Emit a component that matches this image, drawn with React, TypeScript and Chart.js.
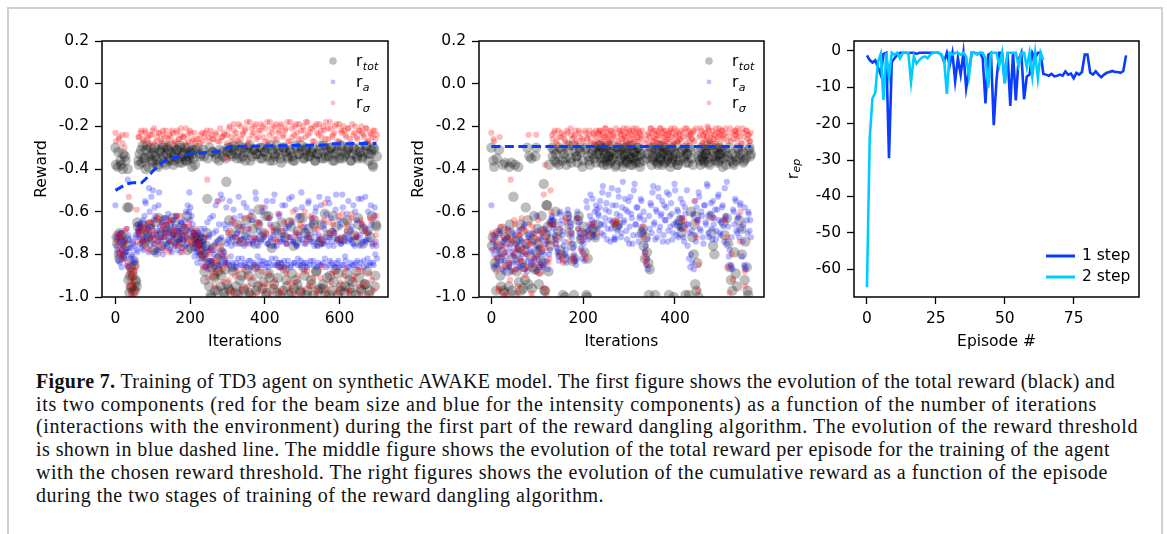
import React, { useEffect, useLayoutEffect, useRef } from "react";
import { Chart, registerables } from "chart.js";

Chart.register(...registerables);

// ---------------- DATA ----------------
// Reward panels: values in hundredths of reward units.
// Two sampling passes per series: pass 1 at iterations 0,3,6,...; pass 2 at 1.5,4.5,7.5,...
const STEP = 3;
const OFFSET2 = 1.5;
const SCALE = 100;

// ===== Left panel (first part of reward dangling), iterations 0..699 =====
const p1Tot = [
  -30,-72,-39,-80,-70,-38,-74,-33,-81,-36,-76,-40,-58,-90,-96,-88,-97,-85,-92,-95,-67,
  -38,-70,-31,-66,-35,-74,-40,-29,-72,-34,
  -68,-33,-37,-78,-30,-65,-36,-39,-71,-32,
  -76,-30,-34,-64,-38,-69,-31,-35,-73,-29,
  -63,-36,-33,-70,-31,-75,-37,-30,-67,-34,
  -72,-32,-36,-62,-30,-35,-77,-33,-31,-74,-38,-70,-73,
  -72,-78,-33,-75,-80,-34,-92,-76,-54,-84,
  -30,-99,-86,-32,-90,-97,-35,-82,-88,-31,
  -95,-79,-34,-98,-87,-46,
  -32,-96,-30,-70,-34,-88,-29,-98,-33,-66,
  -31,-92,-35,-74,-30,-97,-36,-64,-32,-90,
  -29,-99,-34,-68,-31,-86,-33,-95,-59,-30,
  -72,-35,-93,-32,-62,-98,-30,-89,-36,-75,
  -31,-96,-34,-67,-29,-91,-33,-99,-37,-70,
  -30,-87,-32,-95,-35,-65,-31,-98,-34,-76,
  -36,-92,-30,-69,-33,-97,-29,-63,-35,-90,
  -31,-99,-34,-72,-32,-94,-30,-66,-36,-88,
  -33,-97,-31,-74,-35,-96,-29,-61,-34,-91,
  -32,-99,-30,-70,-36,-93,-33,-67,-31,-89,
  -35,-97,-29,-73,-34,-95,-32,-64,-30,-92,
  -36,-98,-33,-71,-31,-88,-35,-66,-30,-96,
  -34,-75,-32,-94,-29,-69,-36,-97,-33,-62,
  -39,-31,-90,-67,
];
const p1Tot2 = [
  -38,-75,-32,-82,-36,-71,-40,-78,-34,-73,-58,-92,-98,-86,-95,-90,-83,-97,-93,-65,-36,
  -33,-68,-37,-29,-75,-35,-31,-70,-39,-66,
  -30,-36,-73,-32,-34,-79,-38,-63,-31,-35,
  -71,-29,-37,-67,-33,-30,-76,-36,-32,-69,
  -38,-34,-65,-31,-72,-35,-29,-74,-37,-33,
  -68,-30,-36,-78,-34,-32,-70,-39,-35,-72,-31,-76,-30,
  -75,-34,-81,-73,-31,-88,-79,-70,-35,-95,
  -84,-100,-32,-77,-91,-33,-86,-97,-36,-74,
  -90,-32,-83,-100,-35,-94,
  -30,-64,-97,-33,-86,-31,-73,-95,-35,-99,
  -29,-68,-90,-34,-96,-32,-71,-87,-30,-98,
  -36,-63,-93,-31,-75,-97,-33,-66,-89,-35,
  -30,-96,-70,-32,-99,-34,-62,-91,-29,-77,
  -36,-94,-33,-69,-98,-31,-85,-35,-65,-97,
  -30,-72,-92,-34,-99,-32,-67,-89,-36,-96,
  -29,-74,-94,-33,-63,-98,-31,-86,-35,-70,
  -30,-97,-68,-34,-92,-32,-99,-64,-36,-88,
  -33,-75,-96,-29,-66,-94,-35,-99,-31,-71,
  -34,-90,-30,-97,-62,-36,-87,-32,-99,-73,
  -29,-95,-35,-65,-98,-33,-89,-31,-69,-96,
  -36,-93,-30,-74,-99,-34,-63,-91,-32,-97,
  -35,-68,-94,-29,-88,-33,-99,-72,-31,-38,
  -30,-95,-66,-34,
];
const p1A = [
  -57,-76,-72,-80,-84,-70,-78,-74,-82,-79,-68,-45,-86,-73,-77,-81,-75,-83,-71,-78,-66,
  -70,-75,-66,-73,-78,-62,-56,-72,-68,-49,
  -76,-53,-71,-64,-58,-79,-69,-74,-51,-67,
  -72,-77,-63,-70,-75,-66,-61,-73,-78,-69,
  -64,-72,-76,-62,-70,-74,-68,-79,-65,-71,
  -73,-67,-60,-75,-69,-51,-58,-62,-66,-70,-75,-79,-84,
  -70,-74,-68,-82,-76,-72,-86,-79,-65,-84,
  -71,-77,-83,-62,-80,-75,-69,-55,-85,-73,
  -52,-78,-81,-66,-84,-58,
  -84,-74,-55,-81,-72,-86,-63,-75,-84,-70,
  -53,-85,-73,-82,-67,-76,-85,-58,-74,-83,
  -72,-86,-64,-75,-84,-51,-73,-81,-69,-85,
  -74,-60,-83,-72,-86,-55,-75,-84,-66,-73,
  -85,-71,-52,-82,-76,-85,-62,-74,-84,-57,
  -73,-86,-68,-75,-83,-54,-72,-85,-65,-74,
  -84,-59,-76,-82,-71,-85,-51,-73,-84,-67,
  -75,-86,-56,-72,-83,-63,-74,-85,-70,-58,
  -76,-84,-53,-73,-85,-66,-75,-82,-61,-74,
  -85,-56,-72,-84,-69,-76,-86,-52,-73,-83,
  -64,-75,-85,-58,-74,-81,-71,-86,-55,-73,
  -84,-67,-75,-85,-60,-72,-83,-54,-76,-84,
  -66,-74,-86,-53,-73,-82,-70,-85,-57,-75,
  -84,-62,-80,-76,
];
const p1A2 = [
  -72,-78,-83,-74,-70,-86,-76,-81,-73,-79,-85,-71,-77,-82,-80,-74,-84,-76,-72,-79,-69,
  -72,-68,-77,-64,-74,-55,-70,-66,-79,-60,
  -73,-67,-50,-75,-62,-71,-78,-57,-69,-74,
  -65,-80,-72,-68,-63,-76,-70,-74,-66,-79,
  -71,-67,-75,-62,-78,-69,-73,-65,-77,-70,
  -64,-76,-72,-57,-60,-64,-68,-72,-77,-81,-70,-74,-78,
  -76,-80,-71,-85,-74,-68,-82,-77,-87,-72,
  -63,-83,-78,-70,-86,-57,-74,-81,-66,-85,
  -72,-54,-79,-83,-68,-75,
  -73,-85,-66,-76,-84,-59,-72,-86,-70,-82,
  -75,-62,-85,-73,-56,-84,-71,-86,-68,-75,
  -83,-60,-74,-85,-72,-54,-86,-76,-65,-83,
  -73,-85,-70,-58,-84,-75,-86,-63,-72,-82,
  -55,-76,-85,-69,-73,-84,-61,-86,-74,-71,
  -83,-57,-75,-85,-67,-72,-86,-53,-74,-84,
  -70,-76,-85,-62,-73,-83,-58,-86,-75,-69,
  -84,-72,-55,-85,-74,-66,-83,-76,-60,-86,
  -73,-71,-85,-57,-75,-84,-68,-72,-86,-54,
  -76,-83,-63,-74,-85,-70,-59,-84,-73,-86,
  -67,-75,-52,-85,-72,-83,-61,-74,-86,-69,
  -73,-85,-57,-76,-84,-64,-72,-86,-71,-54,
  -75,-83,-68,-74,-85,-60,-73,-84,-66,-76,
  -85,-58,-74,-82,
];
const p1Sigma = [
  -23,-70,-75,-26,-78,-72,-24,-80,-30,-74,-68,-86,-53,-93,-98,-90,-100,-88,-96,-59,-69,
  -25,-71,-22,-67,-27,-74,-23,-69,-26,-78,
  -24,-65,-22,-73,-28,-70,-25,-63,-23,-76,
  -27,-68,-24,-72,-22,-66,-26,-79,-25,-64,
  -23,-71,-28,-69,-22,-75,-26,-62,-24,-77,
  -25,-70,-21,-73,-27,-67,-23,-74,-26,-72,-28,-70,-75,
  -26,-74,-24,-78,-27,-82,-23,-86,-45,-25,
  -80,-22,-88,-26,-76,-90,-24,-84,-55,-27,
  -79,-25,-87,-23,-81,-35,
  -24,-92,-20,-70,-27,-98,-22,-66,-25,-88,
  -19,-74,-26,-96,-23,-63,-21,-90,-28,-68,
  -18,-99,-24,-72,-20,-86,-26,-65,-22,-94,
  -19,-58,-25,-97,-21,-70,-27,-89,-18,-67,
  -23,-95,-20,-73,-26,-61,-22,-98,-19,-69,
  -24,-87,-21,-75,-27,-93,-18,-64,-25,-99,
  -20,-71,-23,-90,-19,-66,-26,-97,-22,-60,
  -18,-88,-24,-72,-21,-95,-27,-63,-20,-99,
  -23,-68,-19,-91,-25,-74,-22,-56,-18,-96,
  -26,-65,-21,-89,-24,-70,-20,-98,-27,-62,
  -19,-93,-23,-73,-22,-87,-25,-66,-21,-97,
  -28,-61,-24,-90,-20,-71,-26,-95,-22,-64,
  -23,-88,-25,-69,-21,-99,-27,-63,-24,-92,
  -22,-75,-26,-62,
];
const p1Sigma2 = [
  -27,-73,-79,-25,-71,-82,-28,-76,-69,-24,-84,-95,-89,-100,-87,-94,-91,-99,-86,-74,-25,
  -70,-23,-74,-26,-68,-22,-77,-25,-65,-28,
  -72,-24,-69,-21,-75,-27,-63,-23,-73,-26,
  -66,-22,-78,-25,-70,-28,-64,-24,-74,-22,
  -69,-27,-76,-23,-62,-26,-71,-21,-79,-25,
  -67,-28,-73,-24,-65,-22,-75,-27,-70,-23,-68,-26,-77,
  -75,-28,-80,-23,-86,-25,-72,-22,-91,-27,
  -78,-24,-84,-26,-95,-23,-82,-27,-88,-21,
  -76,-25,-93,-24,-85,-28,
  -70,-21,-97,-25,-64,-19,-90,-23,-72,-27,
  -99,-20,-68,-24,-87,-22,-75,-18,-95,-26,
  -62,-21,-91,-23,-73,-19,-98,-25,-66,-22,
  -88,-20,-71,-27,-94,-18,-63,-24,-99,-21,
  -69,-26,-92,-19,-74,-23,-86,-20,-97,-25,
  -65,-22,-89,-18,-72,-27,-96,-21,-60,-24,
  -93,-19,-70,-26,-99,-22,-67,-20,-88,-25,
  -74,-18,-95,-23,-62,-21,-91,-27,-68,-19,
  -97,-24,-72,-22,-86,-20,-64,-26,-99,-21,
  -70,-18,-93,-25,-66,-23,-88,-19,-73,-27,
  -96,-22,-61,-20,-90,-24,-69,-21,-98,-26,
  -63,-19,-92,-23,-72,-25,-87,-22,-99,-20,
  -66,-24,-94,-21,-70,-27,-89,-23,-64,-25,
  -97,-22,-71,-24,
];
// reward threshold (blue dashed), left panel
const p1ThrIter = [0, 30, 45, 70, 85, 100, 115, 130, 150, 175, 200, 230, 270, 290, 305, 400, 560, 575, 699];
const p1ThrVal = [-0.5, -0.47, -0.465, -0.465, -0.44, -0.41, -0.385, -0.365, -0.35, -0.34, -0.33, -0.325, -0.32, -0.31, -0.295, -0.292, -0.288, -0.282, -0.28];

// ===== Middle panel (training with chosen threshold), iterations 0..566 =====
const p2Tot = [
  -30,-72,-39,-86,-35,-76,-82,-95,-68,-97,
  -37,-74,-88,-39,-70,-97,-53,-38,-80,-73,
  -93,-66,-84,-96,-78,-58,-30,-94,-71,-35,
  -86,-62,-34,-79,-75,-88,-83,-69,-47,-97,
  -57,-67,-38,-73,
  -30,-65,-36,-33,-72,-38,-78,-31,-99,-82,
  -35,-62,-29,-70,-37,-83,-99,-32,-34,-64,
  -30,-73,-39,-67,-31,-99,-82,-36,-71,-33,
  -68,-30,-37,-66,
  -33,-29,-37,-31,-35,-30,-38,-34,-32,-36,
  -29,-33,-39,-67,-66,-31,-35,-30,-37,-33,
  -36,-29,-34,-38,-31,-35,-32,-37,-30,-34,
  -39,-33,-68,-36,-72,-79,-84,-87,-31,-35,
  -30,-99,-34,-38,-32,-36,-29,-33,-37,-31,
  -35,-99,-39,-30,-34,-32,-36,-38,-66,-64,
  -70,-31,-35,-99,-33,-37,-30,-60,-72,-80,
  -94,-97,-34,-32,-38,-35,-36,-31,-33,-29,
  -37,-62,-70,-76,-80,-34,-31,-36,-30,-33,
  -39,-35,-32,-63,-75,-86,-92,-97,-38,-34,
  -36,-30,-64,-33,-80,-37,-92,-35,-97,-31,-34,
];
const p2Tot2 = [
  -76,-36,-84,-97,-70,-31,-90,-79,-38,-98,
  -72,-85,-95,-66,-37,-82,-99,-74,-88,-39,
  -77,-97,-69,-86,-92,-75,-64,-34,-81,-96,
  -73,-87,-30,-68,-94,-78,-62,-84,-97,-71,
  -57,-88,-76,-65,
  -34,-31,-60,-37,-69,-30,-80,-36,-33,-100,
  -38,-31,-66,-35,-76,-29,-82,-34,-37,-62,
  -32,-70,-36,-79,-30,-100,-34,-38,-69,-31,
  -35,-72,-33,-29,
  -31,-35,-30,-38,-33,-36,-29,-34,-37,-32,
  -35,-65,-38,-30,-33,-36,-31,-39,-34,-30,
  -37,-33,-35,-29,-38,-32,-36,-34,-30,-37,
  -31,-70,-76,-82,-35,-33,-99,-30,-38,-34,
  -36,-31,-37,-29,-35,-33,-38,-32,-30,-36,
  -34,-31,-37,-35,-100,-33,-29,-38,-36,-32,
  -67,-34,-30,-37,-33,-99,-31,-35,-38,-66,
  -62,-84,-100,-36,-30,-34,-37,-33,-31,-35,
  -38,-29,-34,-32,-36,-30,-37,-33,-35,-31,
  -65,-71,-38,-34,-30,-36,-33,-37,-79,-89,
  -95,-31,-35,-68,-32,-36,-74,-86,-99,-30,-33,
];
const p2A = [
  -57,-74,-80,-72,-85,-78,-70,-83,-76,-88,
  -73,-81,-68,-86,-75,-79,-84,-71,-87,-77,
  -69,-82,-74,-85,-66,-80,-88,-72,-78,-84,
  -70,-83,-76,-62,-81,-86,-73,-79,-85,-68,
  -74,-87,-80,-65,
  -62,-66,-71,-75,-79,-83,-60,-64,-69,-74,
  -78,-81,-61,-65,-70,-75,-80,-83,-63,-68,
  -72,-77,-82,-75,-72,-55,-69,-66,-52,-64,
  -71,-60,-57,-68,
  -62,-55,-70,-48,-66,-59,-73,-52,-64,-68,
  -57,-73,-73,-61,-50,-67,-72,-58,-65,-54,
  -69,-60,-75,-53,-63,-71,-47,-66,-58,-74,
  -62,-55,-70,-64,-76,-82,-87,-68,-57,-51,
  -66,-73,-60,-49,-69,-62,-55,-71,-64,-58,
  -74,-52,-67,-61,-70,-47,-65,-59,-72,-63,
  -68,-56,-74,-61,-50,-66,-70,-80,-84,-87,
  -71,-58,-64,-53,-69,-62,-75,-57,-66,-48,
  -72,-61,-68,-55,-63,-73,-59,-52,-70,-65,
  -57,-74,-62,-46,-67,-78,-85,-87,-60,-54,
  -69,-63,-72,-56,-81,-66,-58,-86,-70,-61,-64,
];
const p2A2 = [
  -78,-71,-86,-76,-82,-69,-80,-87,-74,-83,
  -79,-72,-85,-77,-88,-70,-81,-75,-84,-78,
  -86,-73,-80,-67,-87,-76,-83,-71,-85,-79,
  -74,-82,-88,-69,-77,-84,-72,-86,-80,-75,
  -83,-70,-78,-63,
  -64,-68,-73,-77,-81,-61,-66,-71,-76,-80,
  -84,-59,-63,-67,-72,-77,-82,-85,-60,-65,
  -70,-74,-79,-83,-70,-58,-73,-62,-67,-54,
  -65,-72,-59,-61,
  -58,-66,-51,-71,-63,-56,-68,-60,-74,-49,
  -65,-72,-57,-69,-53,-62,-70,-46,-64,-59,
  -73,-55,-67,-61,-75,-50,-66,-58,-71,-63,
  -54,-68,-60,-79,-85,-73,-62,-56,-70,-48,
  -65,-59,-72,-53,-67,-61,-74,-57,-64,-51,
  -69,-62,-56,-73,-66,-50,-71,-60,-67,-54,
  -63,-72,-58,-66,-76,-82,-86,-69,-61,-55,
  -74,-64,-51,-68,-60,-72,-57,-65,-47,-70,
  -62,-56,-73,-66,-59,-69,-53,-64,-71,-58,
  -67,-49,-63,-75,-81,-86,-72,-59,-66,-55,
  -70,-62,-57,-68,-74,-85,-87,-64,-60,-69,-72,
];
const p2Sigma = [
  -23,-73,-27,-82,-70,-97,-25,-76,-86,-68,
  -79,-99,-72,-84,-45,-74,-88,-66,-78,-95,
  -71,-83,-63,-77,-87,-69,-80,-24,-75,-98,
  -67,-85,-72,-81,-64,-89,-76,-70,-52,-38,
  -99,-74,-82,-50,
  -24,-66,-22,-27,-72,-25,-80,-23,-84,-26,
  -63,-22,-28,-70,-24,-83,-25,-22,-27,-68,
  -23,-78,-26,-70,-22,-82,-25,-24,-27,-66,
  -23,-28,-22,-70,
  -24,-22,-27,-23,-25,-21,-26,-24,-28,-22,
  -25,-23,-65,-64,-27,-22,-24,-26,-21,-25,
  -23,-28,-22,-26,-24,-21,-27,-23,-25,-22,
  -26,-24,-67,-28,-79,-84,-23,-25,-21,-27,
  -22,-26,-24,-23,-28,-21,-25,-22,-27,-24,
  -26,-23,-22,-25,-28,-21,-24,-27,-23,-26,
  -22,-25,-64,-68,-21,-24,-27,-23,-26,-22,
  -55,-72,-97,-25,-21,-28,-24,-23,-26,-20,
  -22,-27,-25,-63,-24,-21,-26,-23,-28,-22,
  -25,-24,-21,-72,-86,-98,-27,-23,-26,-22,
  -24,-21,-25,-60,-28,-23,-88,-22,-26,-24,-27,
];
const p2Sigma2 = [
  -70,-26,-78,-88,-74,-96,-67,-81,-72,-99,
  -76,-85,-69,-92,-73,-80,-64,-87,-77,-98,
  -71,-83,-68,-79,-90,-74,-86,-66,-75,-100,
  -82,-70,-24,-88,-73,-78,-85,-69,-96,-77,
  -72,-84,-66,-60,
  -26,-23,-75,-28,-22,-68,-25,-82,-24,-27,
  -65,-23,-74,-21,-26,-81,-24,-28,-63,-22,
  -25,-73,-27,-80,-23,-26,-71,-22,-28,-66,
  -24,-25,-27,-23,
  -22,-26,-24,-28,-21,-25,-23,-27,-22,-26,
  -24,-66,-21,-25,-28,-23,-22,-26,-24,-27,
  -21,-25,-23,-28,-22,-26,-24,-21,-27,-23,
  -25,-22,-72,-82,-26,-24,-28,-21,-23,-25,
  -27,-22,-26,-24,-21,-28,-23,-25,-22,-27,
  -24,-26,-21,-23,-28,-25,-22,-27,-24,-26,
  -63,-23,-21,-28,-25,-22,-24,-26,-23,-27,
  -21,-65,-85,-24,-22,-28,-26,-23,-25,-21,
  -27,-24,-22,-26,-28,-23,-25,-21,-24,-22,
  -26,-64,-23,-27,-25,-21,-80,-92,-24,-22,
  -26,-23,-74,-28,-21,-25,-95,-22,-24,-27,-23,
];
const p2ThrIter = [0, 566];
const p2ThrVal = [-0.295, -0.295];

// ===== Right panel: cumulative reward per episode =====
const step1Reward = [
  -1.2, -2.5, -3.2, -2.6, -4.5, -6.5, -0.8, -0.5, -29.5, -3.0, -2.0, -1.0, -0.5, -0.5, -0.5, -0.6, -0.5, -0.5, -0.8, -0.5,
  -0.5, -0.5, -0.5, -0.5, -0.5, -0.5, -0.5, -1.0, -3.0, -0.5, -4.0, -0.5, -8.3, -2.0, -6.5, -0.5, -10.3, -5.5, -0.5, -0.5,
  -0.8, -0.5, -2.0, -14.4, -1.0, -0.5, -20.4, -8.0, -0.5, -0.5, -8.8, -0.5, -15.1, -0.5, -13.6, -2.5, -0.5, -13.3, -7.0, -6.5,
  -0.5, -2.0, -0.5, -0.5, -6.3, -6.5, -6.8, -6.3, -7.0, -6.8, -6.5, -6.8, -5.6, -6.5, -6.2, -7.5, -6.0, -6.5, -5.8, -1.0,
  -1.0, -6.0, -6.5, -5.6, -6.5, -7.2, -6.5, -6.0, -5.8, -5.5, -5.8, -5.8, -6.0, -5.5, -1.2,
];
const step2Reward = [
  -65, -24, -13, -11.5, -3, -0.8, -13.5, -0.5, -7.0, -0.5, -1.0, -0.5, -2.0, -0.5, -0.5, -0.5, -8.5, -1.5, -3.5, -2.5,
  -1.8, -1.5, -2.0, -1.0, -0.5, -0.5, -0.5, -1.0, -2.5, -11.8, -0.5, -1.0, -0.5, -0.5, -1.0, -0.5, -1.5, -7.0, -0.5, -0.5,
  -1.0, -0.5, -0.5, -2.0, -10.1, -0.5, -0.5, -0.5, -4.0, -0.5, -9.0, -0.5, -0.5, -0.5, -0.5, -4.0, -0.5, -0.5, -4.5, -0.5,
  -7.0, -0.5, -7.5, -0.5, -2.5,
];

// ticks
const rewardYTicks = [0.2, 0.0, -0.2, -0.4, -0.6, -0.8, -1.0];
const rewardYLabels = ["0.2", "0.0", "-0.2", "-0.4", "-0.6", "-0.8", "-1.0"];
const p1XTicks = [0, 200, 400, 600];
const p2XTicks = [0, 200, 400];
const p3XTicks = [0, 25, 50, 75];
const p3YTicks = [0, -10, -20, -30, -40, -50, -60];

const captionLead = "Figure 7.";
const captionLines = [
  " Training of TD3 agent on synthetic AWAKE model. The first figure shows the evolution of the total reward (black) and",
  "its two components (red for the beam size and blue for the intensity components) as a function of the number of iterations",
  "(interactions with the environment) during the first part of the reward dangling algorithm. The evolution of the reward threshold",
  "is shown in blue dashed line. The middle figure shows the evolution of the total reward per episode for the training of the agent",
  "with the chosen reward threshold. The right figures shows the evolution of the cumulative reward as a function of the episode",
  "during the two stages of training of the reward dangling algorithm.",
];
// layout: right edge (page px) of each caption line in the reference
const CAPTION_LEFT = 36;
const CAPTION_RIGHT = [1115, 1097, 1138, 1110, 1108, 604];

// ---------------- STYLE ----------------
const FAMILY = "'DejaVu Sans', sans-serif";
const FS = 15.5;
const GRAY = "rgba(0,0,0,0.26)";
const BLUE_PT = "rgba(0,0,255,0.27)";
const RED_PT = "rgba(255,0,0,0.27)";
const THR_BLUE = "#0a3cff";
const STEP1_COLOR = "#0a3cff";
const STEP2_COLOR = "#00ccff";

const toPts = (vals: number[], offset: number) => vals.map((v, i) => ({ x: i * STEP + offset, y: v / SCALE }));
const twoPass = (a: number[], b: number[]) => [...toPts(a, 0), ...toPts(b, OFFSET2)];
const zipPts = (xs: number[], ys: number[]) => xs.map((x, i) => ({ x, y: ys[i] }));

function drawSub(ctx: CanvasRenderingContext2D, x: number, y: number, main: string, sub: string) {
  ctx.font = `${FS}px ${FAMILY}`;
  ctx.fillText(main, x, y);
  const w = ctx.measureText(main).width;
  ctx.font = `italic 11px ${FAMILY}`;
  ctx.fillText(sub, x + w + 0.5, y + 3.5);
  return w + 0.5 + ctx.measureText(sub).width;
}

type LegendItem = { sub: string; color: string; r?: number; label?: string };

function decor(xTitle: string, yTitle: string, ySub: string | null, legend: LegendItem[], legendKind: "pts" | "lines") {
  return {
    id: "decor",
    afterDraw(chart: any) {
      const { ctx, chartArea: a } = chart;
      ctx.save();
      ctx.strokeStyle = "#000";
      ctx.lineWidth = 1.5;
      ctx.strokeRect(a.left, a.top, a.right - a.left, a.bottom - a.top);
      ctx.fillStyle = "#000";
      ctx.font = `${FS}px ${FAMILY}`;
      ctx.textAlign = "center";
      ctx.textBaseline = "middle";
      ctx.fillText(xTitle, (a.left + a.right) / 2, a.bottom + 45);
      const midY = (a.top + a.bottom) / 2;
      ctx.save();
      ctx.translate(a.left - 60, midY);
      ctx.rotate(-Math.PI / 2);
      if (ySub) {
        ctx.textAlign = "left";
        ctx.textBaseline = "middle";
        ctx.font = `${FS}px ${FAMILY}`;
        const w1 = ctx.measureText(yTitle).width;
        ctx.font = `italic 11px ${FAMILY}`;
        const w2 = ctx.measureText(ySub).width;
        const tot = w1 + 0.5 + w2;
        drawSub(ctx, -tot / 2, 0, yTitle, ySub);
      } else {
        ctx.textAlign = "center";
        ctx.textBaseline = "middle";
        ctx.fillText(yTitle, 0, 0);
      }
      ctx.restore();
      ctx.textAlign = "left";
      ctx.textBaseline = "alphabetic";
      if (legendKind === "pts") {
        legend.forEach((it, i) => {
          const y = a.top + 20 + i * 21;
          ctx.fillStyle = it.color;
          ctx.beginPath();
          ctx.arc(a.right - 55, y, it.r || 2.5, 0, Math.PI * 2);
          ctx.fill();
          ctx.fillStyle = "#000";
          drawSub(ctx, a.right - 32, y + 5, "r", it.sub);
        });
      } else {
        legend.forEach((it, i) => {
          const y = a.bottom - 41 + i * 21;
          ctx.strokeStyle = it.color;
          ctx.lineWidth = 3;
          ctx.beginPath();
          ctx.moveTo(a.right - 93, y);
          ctx.lineTo(a.right - 64, y);
          ctx.stroke();
          ctx.fillStyle = "#000";
          ctx.font = `${FS}px ${FAMILY}`;
          ctx.textBaseline = "middle";
          ctx.fillText(it.label || "", a.right - 57, y);
        });
      }
      ctx.restore();
    },
  };
}

function axis(min: number, max: number, ticks: number[], labels: string[] | null, fit: (s: any) => void) {
  return {
    type: "linear" as const,
    min,
    max,
    afterFit: fit,
    afterBuildTicks: (s: any) => {
      s.ticks = ticks.map((v) => ({ value: v }));
    },
    ticks: {
      color: "#000",
      font: { family: FAMILY, size: FS },
      padding: 6,
      autoSkip: false,
      maxRotation: 0,
      minRotation: 0,
      callback: (v: any, i: number) => (labels ? labels[i] : String(v)),
    },
    grid: { drawOnChartArea: false, tickLength: 7, tickColor: "#000", tickWidth: 1.3, display: true },
    border: { display: false },
  };
}

const LEG_PTS: LegendItem[] = [
  { sub: "tot", color: "rgba(0,0,0,0.25)", r: 3.8 },
  { sub: "a", color: "rgba(0,0,255,0.25)", r: 2.4 },
  { sub: "σ", color: "rgba(255,0,0,0.25)", r: 2.4 },
];

function rewardConfig(
  tot: any[], ra: any[], rs: any[], thrX: number[], thrY: number[],
  xmin: number, xmax: number, xticks: number[], yW: number, padR: number
): any {
  return {
    type: "scatter",
    data: {
      datasets: [
        { data: zipPts(thrX, thrY), showLine: true, borderColor: THR_BLUE, borderWidth: 3, borderDash: [9, 4.5], pointRadius: 0, clip: 0 },
        { data: rs, pointRadius: 3.1, backgroundColor: RED_PT, pointBorderWidth: 0, borderWidth: 0, clip: 0 },
        { data: ra, pointRadius: 3.1, backgroundColor: BLUE_PT, pointBorderWidth: 0, borderWidth: 0, clip: 0 },
        { data: tot, pointRadius: 5.2, backgroundColor: GRAY, pointBorderWidth: 0, borderWidth: 0, clip: 0 },
      ],
    },
    options: {
      responsive: false,
      animation: false,
      devicePixelRatio: 1,
      events: [],
      layout: { padding: { left: 0, top: 16, right: padR, bottom: 0 } },
      plugins: { legend: { display: false }, tooltip: { enabled: false } },
      scales: {
        x: axis(xmin, xmax, xticks, null, (s: any) => { s.height = 63; }),
        y: axis(-1.0, 0.2, rewardYTicks, rewardYLabels, (s: any) => { s.width = yW; }),
      },
    },
    plugins: [decor("Iterations", "Reward", null, LEG_PTS, "pts")],
  };
}

function episodeConfig(): any {
  const ep1 = step1Reward.map((v, i) => ({ x: i, y: v }));
  const ep2 = step2Reward.map((v, i) => ({ x: i, y: v }));
  return {
    type: "line",
    data: {
      datasets: [
        { label: "2 step", data: ep2, borderColor: STEP2_COLOR, borderWidth: 2.6, pointRadius: 0, tension: 0, clip: 0 },
        { label: "1 step", data: ep1, borderColor: STEP1_COLOR, borderWidth: 2.6, pointRadius: 0, tension: 0, clip: 0 },
      ],
    },
    options: {
      responsive: false,
      animation: false,
      devicePixelRatio: 1,
      events: [],
      layout: { padding: { left: 0, top: 16, right: 16, bottom: 0 } },
      plugins: { legend: { display: false }, tooltip: { enabled: false } },
      scales: {
        x: axis(-4.7, 98.7, p3XTicks, null, (s: any) => { s.height = 63; }),
        y: axis(-67.7, 2.75, p3YTicks, null, (s: any) => { s.width = 74; }),
      },
    },
    plugins: [
      decor("Episode #", "r", "ep", [
        { sub: "", color: STEP1_COLOR, label: "1 step" },
        { sub: "", color: STEP2_COLOR, label: "2 step" },
      ], "lines"),
    ],
  };
}

export default function App() {
  const c1 = useRef<HTMLCanvasElement>(null);
  const c2 = useRef<HTMLCanvasElement>(null);
  const c3 = useRef<HTMLCanvasElement>(null);
  const lineRefs = useRef<(HTMLSpanElement | null)[]>([]);

  useLayoutEffect(() => {
    lineRefs.current.forEach((el, i) => {
      if (!el) return;
      el.style.letterSpacing = "0px";
      const w = el.getBoundingClientRect().width;
      const target = CAPTION_RIGHT[i] - CAPTION_LEFT;
      const n = (el.textContent || "").length;
      if (n > 1) el.style.letterSpacing = `${(target - w) / n}px`;
    });
  }, []);

  useEffect(() => {
    const charts = [
      new Chart(c1.current!, rewardConfig(twoPass(p1Tot, p1Tot2), twoPass(p1A, p1A2), twoPass(p1Sigma, p1Sigma2), p1ThrIter, p1ThrVal, -36, 730, p1XTicks, 82, 12)),
      new Chart(c2.current!, rewardConfig(twoPass(p2Tot, p2Tot2), twoPass(p2A, p2A2), twoPass(p2Sigma, p2Sigma2), p2ThrIter, p2ThrVal, -27, 594, p2XTicks, 79, 16)),
      new Chart(c3.current!, episodeConfig()),
    ];
    return () => charts.forEach((c) => c.destroy());
  }, []);

  const canvasStyle = (left: number, w: number): React.CSSProperties => ({
    position: "absolute", left, top: 25, width: w, height: 335,
  });

  return (
    <div style={{ position: "fixed", left: 0, top: 0, width: 1167, height: 534, background: "#fff", overflow: "hidden" }}>
      <div style={{ position: "absolute", left: 7, top: 7, width: 1156, height: 620, border: "2px solid #d0d0d0", boxSizing: "border-box" }} />
      <canvas ref={c1} width={380} height={335} style={canvasStyle(20, 380)} />
      <canvas ref={c2} width={380} height={335} style={canvasStyle(400, 380)} />
      <canvas ref={c3} width={375} height={335} style={canvasStyle(780, 375)} />
      <div style={{ position: "absolute", left: CAPTION_LEFT, top: 370, fontFamily: "'Liberation Serif', serif", fontSize: 20, lineHeight: "22.7px", color: "#111", whiteSpace: "nowrap" }}>
        {captionLines.map((ln, i) => (
          <div key={i}>
            <span ref={(el) => { lineRefs.current[i] = el; }} style={{ display: "inline-block" }}>
              {i === 0 && <b>{captionLead}</b>}
              {ln}
            </span>
          </div>
        ))}
      </div>
    </div>
  );
}
